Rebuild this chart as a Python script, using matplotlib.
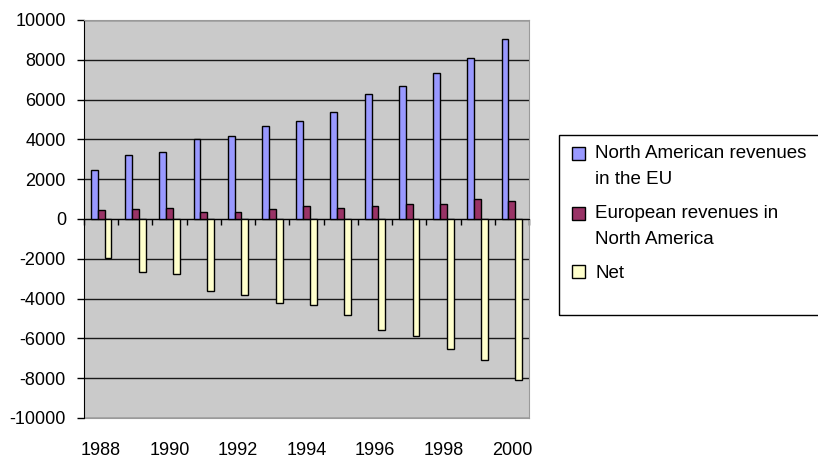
import matplotlib
matplotlib.use('Agg')
import matplotlib.pyplot as plt
from matplotlib.patches import Rectangle, Patch
from matplotlib.legend_handler import HandlerPatch
import numpy as np

plt.rcParams['font.family'] = ['Liberation Sans', 'DejaVu Sans']
plt.rcParams['axes.unicode_minus'] = False

years = list(range(1988, 2001))
na_in_eu = [2450, 3200, 3350, 4000, 4150, 4650, 4900, 5400, 6300, 6700, 7350, 8100, 9050]
eu_in_na = [450, 500, 550, 350, 350, 500, 650, 550, 650, 750, 750, 1000, 900]
net = [-1950, -2650, -2750, -3600, -3800, -4200, -4300, -4800, -5600, -5900, -6550, -7100, -8100]
series_labels = ["North American revenues\nin the EU", "European revenues in\nNorth America", "Net"]
colors = ["#9999FF", "#993366", "#FFFFCC"]
yticks = list(range(-10000, 10001, 2000))
xlabel_years = years[::2]

W, H = 818, 457
fig = plt.figure(figsize=(W / 100, H / 100), dpi=100)
ax = fig.add_axes([84 / W, 1 - 418 / H, (529 - 84) / W, (418 - 20) / H])
ax.set_facecolor('#CACACA')

x = np.arange(len(years))
bw = 0.2
for i, (vals, c, lab) in enumerate(zip([na_in_eu, eu_in_na, net], colors, series_labels)):
    ax.bar(x + (i - 1) * bw, vals, bw, color=c, edgecolor='black', linewidth=1.0,
           label=lab, zorder=3)

ax.set_xlim(-0.5, len(years) - 0.5)
ax.set_ylim(-10000, 10000)
ax.set_yticks(yticks)
ax.yaxis.grid(True, color='#1a1a1a', linewidth=1.0)
ax.set_axisbelow(True)
ax.spines['bottom'].set_position(('data', 0))
ax.spines['bottom'].set_color('black')
ax.spines['left'].set_color('black')
for s in ['top', 'right']:
    ax.spines[s].set_color('#9a9a9a')
ax.set_xticks(np.arange(len(years) + 1) - 0.5)
ax.tick_params(axis='x', direction='out', length=4, width=1, labelbottom=False)
ax.tick_params(axis='y', direction='out', length=5, width=1, labelsize=13, pad=8)

sec = ax.secondary_xaxis('bottom')
sec.set_xticks(x[::2], labels=[str(y) for y in xlabel_years])
sec.tick_params(axis='x', length=0, labelsize=13, pad=17)
sec.spines['bottom'].set_color('#9a9a9a')


def shifted_patch(legend, orig_handle, xdescent, ydescent, width, height, fontsize):
    shift = 9.4 if '\n' in orig_handle.get_label() else 0.0
    return Rectangle((-xdescent, -ydescent + shift), width, height)


handles = [Patch(facecolor=c, edgecolor='black', linewidth=1.0, label=l)
           for c, l in zip(colors, series_labels)]
leg = fig.legend(handles=handles, loc='upper left', bbox_to_anchor=(572 / W, 1 - 145 / H),
                 frameon=False, fontsize=13.5, handlelength=0.7, handleheight=0.7,
                 handletextpad=0.53, borderpad=0, borderaxespad=0, labelspacing=0.9,
                 handler_map={Patch: HandlerPatch(patch_func=shifted_patch)})
for t in leg.get_texts():
    t.set_linespacing(1.7)

fig.add_artist(Rectangle((559 / W, 1 - 315 / H), (830 - 559) / W, 180 / H,
                         transform=fig.transFigure, fill=False, edgecolor='black',
                         linewidth=1.0))

fig.savefig('out.png', dpi=100)
